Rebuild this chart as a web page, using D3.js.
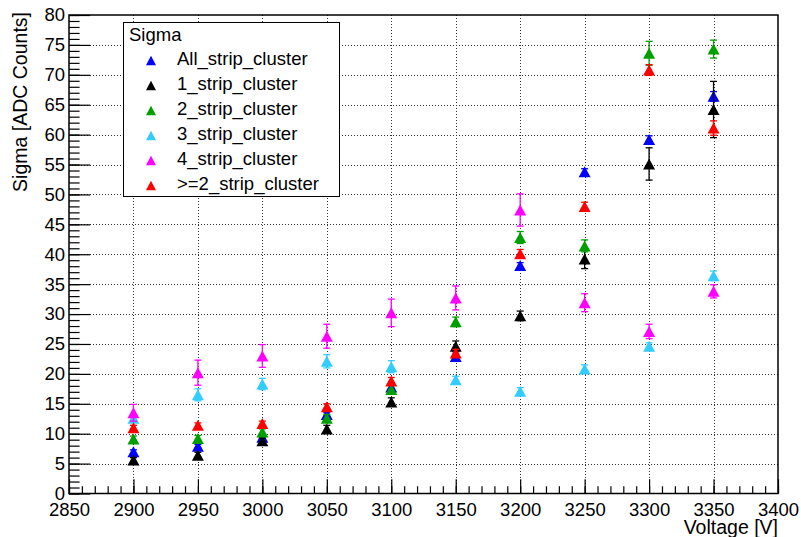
<!DOCTYPE html>
<html>
<head>
<meta charset="utf-8">
<script src="https://cdn.jsdelivr.net/npm/d3@7"></script>
<style>
  html, body { margin: 0; padding: 0; background: #fff; }
  svg { display: block; }
  text { font-family: "Liberation Sans", Arial, Helvetica, sans-serif; }
</style>
</head>
<body>
<svg id="chart" width="801" height="537"></svg>
<script>
// ---- Data ----
const voltages = [2900, 2950, 3000, 3050, 3100, 3150, 3200, 3250, 3300, 3350];

const allStrip   = [7.0, 7.9, 9.4, 13.2, 17.8, 22.9, 38.1, 53.8, 59.2, 66.4];
const strip1     = [5.6, 6.4, 8.8, 10.8, 15.3, 24.6, 29.7, 39.2, 55.1, 64.2];
const strip2     = [9.1, 9.2, 10.3, 12.6, 17.4, 28.7, 42.8, 41.4, 73.6, 74.3];
const strip3     = [12.6, 16.5, 18.3, 22.1, 21.2, 19.0, 17.1, 20.8, 24.6, 36.4];
const strip4     = [13.5, 20.2, 23.0, 26.3, 30.2, 32.7, 47.4, 31.9, 27.1, 33.8];
const stripGe2   = [11.0, 11.4, 11.7, 14.5, 18.8, 23.5, 40.1, 48.0, 70.8, 61.1];

const allStripErr = [0.3, 0.3, 0.3, 0.3, 0.3, 0.4, 0.5, 0.5, 0.6, 0.8];
const strip1Err   = [0.4, 0.5, 0.5, 0.6, 0.7, 0.9, 0.8, 1.6, 2.7, 4.7];
const strip2Err   = [0.5, 0.5, 0.5, 0.6, 0.7, 0.8, 1.0, 1.0, 2.0, 1.5];
const strip3Err   = [0.6, 1.0, 0.95, 1.1, 1.0, 0.6, 0.6, 0.7, 0.6, 0.8];
const strip4Err   = [1.4, 2.1, 1.9, 2.0, 2.3, 2.0, 2.7, 1.5, 1.2, 1.1];
const stripGe2Err = [0.4, 0.4, 0.4, 0.5, 0.6, 0.6, 0.7, 0.7, 0.9, 1.2];

const seriesNames  = ["All_strip_cluster", "1_strip_cluster", "2_strip_cluster", "3_strip_cluster", "4_strip_cluster", ">=2_strip_cluster"];
const seriesColors = ["#0000ff", "#000000", "#009f00", "#33ccff", "#ff00ff", "#ff0000"];
const seriesValues = [allStrip, strip1, strip2, strip3, strip4, stripGe2];
const seriesErrors = [allStripErr, strip1Err, strip2Err, strip3Err, strip4Err, stripGe2Err];

const xTicks = [2850, 2900, 2950, 3000, 3050, 3100, 3150, 3200, 3250, 3300, 3350, 3400];
const yTicks = [0, 5, 10, 15, 20, 25, 30, 35, 40, 45, 50, 55, 60, 65, 70, 75, 80];
const legendTitle = "Sigma";
const xTitle = "Voltage [V]";
const yTitle = "Sigma [ADC Counts]";

// ---- Layout ----
const svg = d3.select("#chart");
const L = 69, R = 778, T = 15, B = 493.5;
const x = d3.scaleLinear().domain([2850, 3400]).range([L, R]);
const y = d3.scaleLinear().domain([0, 80]).range([B, T]);
const fs = 18.5;
const fsTitle = 19.5;

// grid
const grid = svg.append("g");
grid.selectAll("line.gx").data(xTicks.slice(1, -1)).join("line")
  .attr("x1", d => Math.round(x(d)) + 0.5).attr("x2", d => Math.round(x(d)) + 0.5)
  .attr("y1", T).attr("y2", B)
  .attr("stroke", "#333").attr("stroke-width", 1).attr("stroke-dasharray", "1,2");
grid.selectAll("line.gy").data(yTicks.slice(1, -1)).join("line")
  .attr("x1", L).attr("x2", R)
  .attr("y1", d => Math.round(y(d)) + 0.5).attr("y2", d => Math.round(y(d)) + 0.5)
  .attr("stroke", "#333").attr("stroke-width", 1).attr("stroke-dasharray", "1,2");

// axes
const xMinor = d3.range(2850, 3401, 10);
const yMinor = d3.range(0, 81, 1);

const gx = svg.append("g").attr("transform", `translate(0,${B})`)
  .call(d3.axisBottom(x).tickValues(xTicks).tickSize(-14.3).tickPadding(9.5).tickFormat(d3.format("d")));
const gxm = svg.append("g").attr("transform", `translate(0,${B})`)
  .call(d3.axisBottom(x).tickValues(xMinor).tickSize(-7.2).tickFormat(""));
const gy = svg.append("g").attr("transform", `translate(${L},0)`)
  .call(d3.axisLeft(y).tickValues(yTicks).tickSize(-21.3).tickPadding(4).tickFormat(d3.format("d")));
const gym = svg.append("g").attr("transform", `translate(${L},0)`)
  .call(d3.axisLeft(y).tickValues(yMinor).tickSize(-10.6).tickFormat(""));

[gx, gxm, gy, gym].forEach(g => {
  g.select(".domain").remove();
  g.selectAll(".tick line").attr("stroke", "#000").attr("stroke-width", 1.2);
  g.selectAll("text").attr("font-size", fs).attr("fill", "#000")
    .style("font-family", '"Liberation Sans", Arial, sans-serif');
});

// frame
svg.append("rect").attr("x", L).attr("y", T).attr("width", R - L).attr("height", B - T)
  .attr("fill", "none").attr("stroke", "#000").attr("stroke-width", 1.5);

// axis titles
svg.append("text").attr("x", R).attr("y", 534).attr("text-anchor", "end")
  .attr("font-size", fsTitle).text(xTitle);
svg.append("text").attr("transform", `translate(27,${T - 3}) rotate(-90)`)
  .attr("text-anchor", "end").attr("font-size", fsTitle).text(yTitle);

// triangle marker path
function tri(w, h) {
  return `M${-w / 2},${h / 2}L${w / 2},${h / 2}L0,${-h / 2}Z`;
}

// series
const plot = svg.append("g");
seriesValues.forEach((vals, si) => {
  const col = seriesColors[si];
  const errs = seriesErrors[si];
  const pts = voltages.map((v, i) => ({ v, s: vals[i], e: errs[i] }));
  const g = plot.append("g");
  // error bars
  g.selectAll("line.err").data(pts).join("line")
    .attr("x1", d => x(d.v)).attr("x2", d => x(d.v))
    .attr("y1", d => y(d.s + d.e)).attr("y2", d => y(d.s - d.e))
    .attr("stroke", col).attr("stroke-width", 1.3);
  g.selectAll("line.capt").data(pts).join("line")
    .attr("x1", d => x(d.v) - 3.5).attr("x2", d => x(d.v) + 3.5)
    .attr("y1", d => y(d.s + d.e)).attr("y2", d => y(d.s + d.e))
    .attr("stroke", col).attr("stroke-width", 1.3);
  g.selectAll("line.capb").data(pts).join("line")
    .attr("x1", d => x(d.v) - 3.5).attr("x2", d => x(d.v) + 3.5)
    .attr("y1", d => y(d.s - d.e)).attr("y2", d => y(d.s - d.e))
    .attr("stroke", col).attr("stroke-width", 1.3);
  // markers
  g.selectAll("path.mk").data(pts).join("path")
    .attr("d", tri(12, 11))
    .attr("transform", d => `translate(${x(d.v)},${y(d.s)})`)
    .attr("fill", col);
});

// legend
const lg = svg.append("g");
lg.append("rect").attr("x", 123.5).attr("y", 22.5).attr("width", 216).attr("height", 174)
  .attr("fill", "#fff").attr("stroke", "#000").attr("stroke-width", 1);
lg.append("text").attr("x", 129).attr("y", 40.5).attr("font-size", fs).text(legendTitle);
seriesNames.forEach((name, i) => {
  const base = 64.5 + i * 25;
  lg.append("path").attr("d", tri(10, 9.5))
    .attr("transform", `translate(151,${base - 4})`).attr("fill", seriesColors[i]);
  lg.append("text").attr("x", 177).attr("y", base).attr("font-size", fs).text(name);
});
</script>
</body>
</html>
